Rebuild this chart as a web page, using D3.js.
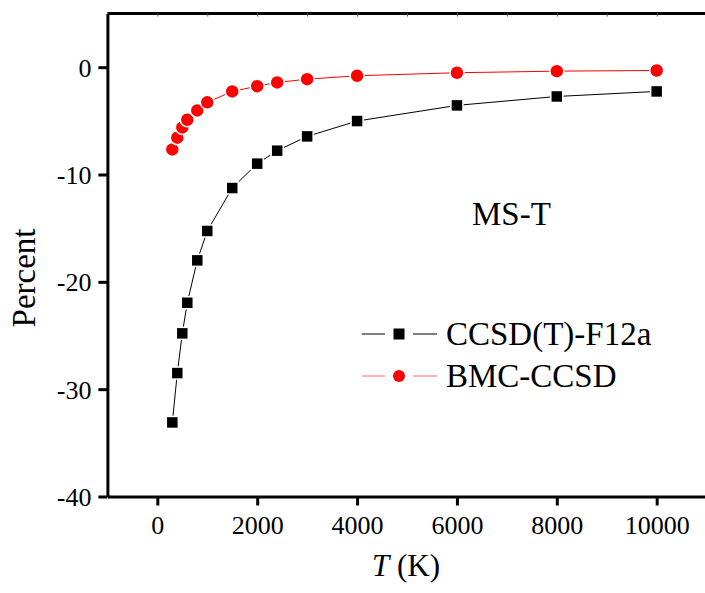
<!DOCTYPE html>
<html>
<head>
<meta charset="utf-8">
<script src="https://cdn.jsdelivr.net/npm/d3@7"></script>
<style>
  body { margin: 0; background: #fff; }
  svg { display: block; font-family: "Liberation Serif", "Times New Roman", serif; }
</style>
</head>
<body>
<svg id="chart" width="705" height="593"></svg>
<script>
// Data
const temps = [300, 400, 500, 600, 800, 1000, 1500, 2000, 2400, 3000, 4000, 6000, 8000, 10000];
const ccsdF12a = [-33.1, -28.5, -24.8, -21.95, -18.0, -15.26, -11.26, -8.99, -7.78, -6.45, -5.02, -3.56, -2.73, -2.26];
const bmcCcsd = [-7.66, -6.57, -5.61, -4.9, -4.03, -3.28, -2.26, -1.77, -1.42, -1.12, -0.8, -0.52, -0.37, -0.31];
const xTicks = [0, 2000, 4000, 6000, 8000, 10000];
const yTicks = [-40, -30, -20, -10, 0];
const seriesNames = ["CCSD(T)-F12a", "BMC-CCSD"];

const width = 705;
const height = 593;

const x = d3.scaleLinear().domain([-1000, 11000]).range([107.4, 706.6]);
const y = d3.scaleLinear().domain([-40, 5]).range([496.5, 13.5]);

const svg = d3.select("#chart");

// frame: top and right lines
svg.append("line")
    .attr("x1", x(-1000)).attr("x2", x(11000))
    .attr("y1", y(5)).attr("y2", y(5))
    .attr("stroke", "#000").attr("stroke-width", 3);
svg.append("line")
    .attr("x1", x(11000)).attr("x2", x(11000))
    .attr("y1", y(5)).attr("y2", y(-40))
    .attr("stroke", "#000").attr("stroke-width", 3);

// tiny inward ticks on the top edge
svg.append("g")
    .attr("transform", `translate(0,${y(5)})`)
    .call(d3.axisBottom(x).tickValues(d3.range(0, 11000, 1000)).tickSize(3).tickFormat(""))
    .call(g => g.select(".domain").remove())
    .call(g => g.selectAll(".tick line").attr("stroke-width", 1).attr("stroke", "#555"));

// plain hyphen for negatives, like the original
const fmt = d => String(d);

// x axis
svg.append("g")
    .attr("transform", `translate(0,${y(-40)})`)
    .call(d3.axisBottom(x).tickValues(xTicks).tickSize(9).tickSizeOuter(0).tickFormat(fmt))
    .call(g => g.select(".domain").attr("stroke-width", 3))
    .call(g => g.selectAll(".tick line").attr("stroke-width", 3))
    .call(g => g.selectAll(".tick text")
        .attr("y", 37).attr("dy", null)
        .attr("font-size", 26).attr("fill", "#000")
        .attr("font-family", "Liberation Serif"));

// y axis
svg.append("g")
    .attr("transform", `translate(${x(-1000)},0)`)
    .call(d3.axisLeft(y).tickValues(yTicks).tickSize(9).tickSizeOuter(0).tickFormat(fmt))
    .call(g => g.select(".domain").attr("stroke-width", 3))
    .call(g => g.selectAll(".tick line").attr("stroke-width", 3))
    .call(g => g.selectAll(".tick text")
        .attr("x", -16).attr("dy", "0.34em")
        .attr("font-size", 26).attr("fill", "#000")
        .attr("font-family", "Liberation Serif"));

// axis titles
svg.append("text")
    .attr("transform", "translate(35,278) rotate(-90)")
    .attr("text-anchor", "middle")
    .attr("font-size", 33)
    .text("Percent");

const xt = svg.append("text")
    .attr("x", 406).attr("y", 576)
    .attr("text-anchor", "middle")
    .attr("font-size", 31);
xt.append("tspan").attr("font-style", "italic").text("T");
xt.append("tspan").text(" (K)");

svg.append("text")
    .attr("x", 472).attr("y", 225)
    .attr("font-size", 33)
    .text("MS-T");

const line = d3.line().x(d => x(d[0])).y(d => y(d[1]));

const black = temps.map((t, i) => [t, ccsdF12a[i]]);
const red = temps.map((t, i) => [t, bmcCcsd[i]]);

// black series
svg.append("path")
    .datum(black)
    .attr("d", line)
    .attr("fill", "none").attr("stroke", "#000").attr("stroke-width", 1);
svg.append("g").selectAll("rect")
    .data(black)
    .join("rect")
    .attr("x", d => x(d[0]) - 6).attr("y", d => y(d[1]) - 6)
    .attr("width", 12).attr("height", 12)
    .attr("fill", "#000").attr("stroke", "#fff").attr("stroke-width", 1.5);

// red series
svg.append("path")
    .datum(red)
    .attr("d", line)
    .attr("fill", "none").attr("stroke", "#ff0000").attr("stroke-width", 1);
svg.append("g").selectAll("circle")
    .data(red)
    .join("circle")
    .attr("cx", d => x(d[0])).attr("cy", d => y(d[1]))
    .attr("r", 7)
    .attr("fill", "#ff0000").attr("stroke", "#fff").attr("stroke-width", 1.5);

// legend
const legend = svg.append("g");
const rows = [
    { name: seriesNames[0], color: "#000", cy: 334, shape: "square" },
    { name: seriesNames[1], color: "#ff0000", cy: 376, shape: "circle" }
];
rows.forEach(r => {
    legend.append("line")
        .attr("x1", 362).attr("x2", 385).attr("y1", r.cy).attr("y2", r.cy)
        .attr("stroke", r.color).attr("stroke-width", 1)
        .attr("stroke-opacity", r.shape === "circle" ? 0.6 : 1);
    legend.append("line")
        .attr("x1", 413).attr("x2", 437).attr("y1", r.cy).attr("y2", r.cy)
        .attr("stroke", r.color).attr("stroke-width", 1)
        .attr("stroke-opacity", r.shape === "circle" ? 0.6 : 1);
    if (r.shape === "square") {
        legend.append("rect")
            .attr("x", 399 - 5.5).attr("y", r.cy - 5.5)
            .attr("width", 11).attr("height", 11)
            .attr("fill", r.color);
    } else {
        legend.append("circle")
            .attr("cx", 399).attr("cy", r.cy).attr("r", 6)
            .attr("fill", r.color);
    }
    legend.append("text")
        .attr("x", 446).attr("y", r.cy + 11)
        .attr("font-size", 33)
        .text(r.name);
});
</script>
</body>
</html>
